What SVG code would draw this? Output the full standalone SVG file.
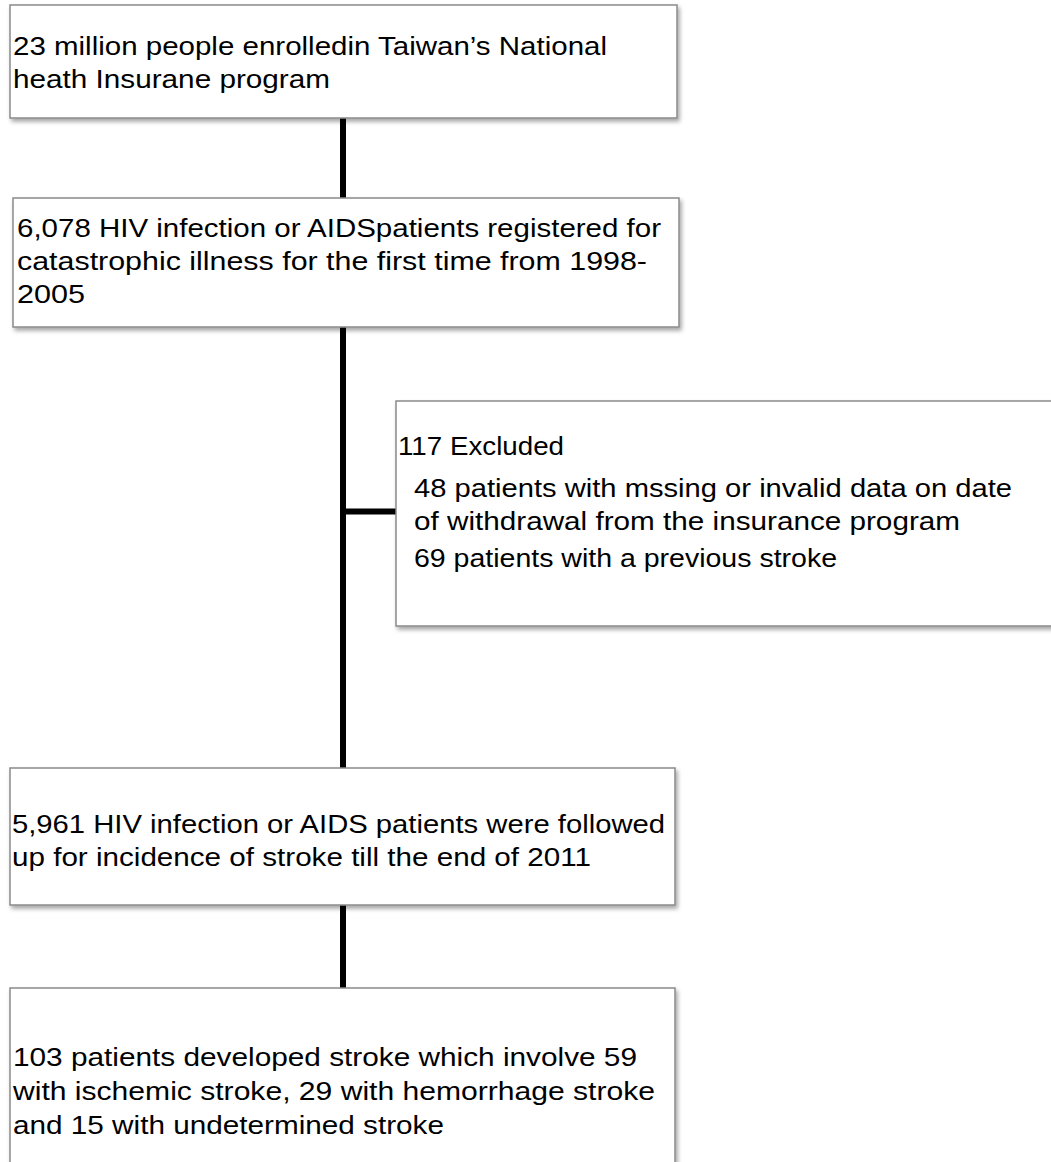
<svg xmlns="http://www.w3.org/2000/svg" width="1051" height="1162" viewBox="0 0 1051 1162">
<defs>
<filter id="sh" x="-5%" y="-5%" width="115%" height="120%">
<feDropShadow dx="2" dy="3" stdDeviation="2" flood-color="#000" flood-opacity="0.35"/>
</filter>
<style>
.box{fill:#fff;stroke:#8a8a8a;stroke-width:1.5;filter:url(#sh)}
.t{font-family:"Liberation Sans",Arial,sans-serif;font-size:26px;fill:#000}
.c{stroke:#000;stroke-width:6;fill:none}
</style>
</defs>
<rect width="1051" height="1162" fill="#fff"/>
<g id="connectors">
<line class="c" x1="343" y1="118" x2="343" y2="198"/>
<line class="c" x1="343" y1="327" x2="343" y2="768"/>
<line class="c" x1="343" y1="511.5" x2="396" y2="511.5"/>
<line class="c" x1="343" y1="905" x2="343" y2="988"/>
</g>
<g id="n1">
<rect class="box" x="10" y="5" width="667" height="113"/>
<text class="t" x="13" y="55" textLength="594" lengthAdjust="spacingAndGlyphs">23 million people enrolledin Taiwan’s National</text>
<text class="t" x="13" y="88" textLength="317" lengthAdjust="spacingAndGlyphs">heath Insurane program</text>
</g>
<g id="n2">
<rect class="box" x="13" y="198" width="666" height="129"/>
<text class="t" x="17" y="237" textLength="644" lengthAdjust="spacingAndGlyphs">6,078 HIV infection or AIDSpatients registered for</text>
<text class="t" x="17" y="270" textLength="630" lengthAdjust="spacingAndGlyphs">catastrophic illness for the first time from 1998-</text>
<text class="t" x="17" y="303" textLength="68" lengthAdjust="spacingAndGlyphs">2005</text>
</g>
<g id="n3">
<rect class="box" x="396" y="401" width="670" height="225"/>
<text class="t" x="398" y="455" textLength="166" lengthAdjust="spacingAndGlyphs">117 Excluded</text>
<text class="t" x="414" y="497" textLength="598" lengthAdjust="spacingAndGlyphs">48 patients with mssing or invalid data on date</text>
<text class="t" x="414" y="530" textLength="546" lengthAdjust="spacingAndGlyphs">of withdrawal from the insurance program</text>
<text class="t" x="414" y="567" textLength="423" lengthAdjust="spacingAndGlyphs">69 patients with a previous stroke</text>
</g>
<g id="n4">
<rect class="box" x="10" y="768" width="665" height="137"/>
<text class="t" x="12" y="833" textLength="653" lengthAdjust="spacingAndGlyphs">5,961 HIV infection or AIDS patients were followed</text>
<text class="t" x="12" y="866" textLength="579" lengthAdjust="spacingAndGlyphs">up for incidence of stroke till the end of 2011</text>
</g>
<g id="n5">
<rect class="box" x="10" y="988" width="665" height="190"/>
<text class="t" x="13" y="1066" textLength="624" lengthAdjust="spacingAndGlyphs">103 patients developed stroke which involve 59</text>
<text class="t" x="13" y="1100" textLength="642" lengthAdjust="spacingAndGlyphs">with ischemic stroke, 29 with hemorrhage stroke</text>
<text class="t" x="13" y="1134" textLength="431" lengthAdjust="spacingAndGlyphs">and 15 with undetermined stroke</text>
</g>
</svg>
